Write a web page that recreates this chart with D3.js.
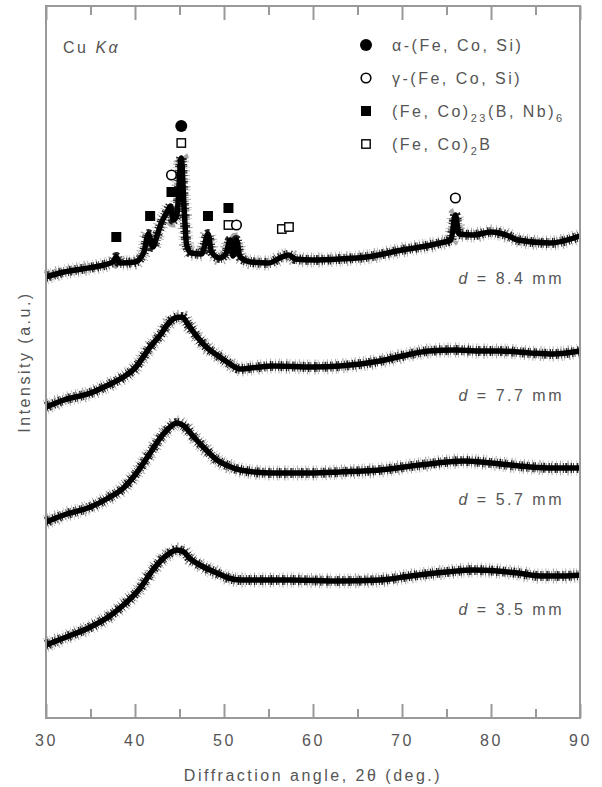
<!DOCTYPE html>
<html>
<head>
<meta charset="utf-8">
<script src="https://cdn.jsdelivr.net/npm/d3@7"></script>
<style>
  body { margin: 0; background: #fff; }
  text { font-family: "Liberation Sans", Arial, sans-serif; fill: #555; letter-spacing: 2.5px; }
</style>
</head>
<body>
<script>
// XRD patterns, intensity in arbitrary units (curves offset vertically)
const angles84 = [30, 32, 34, 36, 37.5, 37.9, 38.3, 40, 41, 41.5, 42, 42.5, 43, 43.6, 44, 44.3, 44.7, 45.2, 45.5, 45.8, 46.3, 47.5, 48.2, 48.6, 49.5, 50.2, 50.7, 51.0, 51.4, 51.8, 53, 55, 56.5, 57.3, 58, 60, 63, 66, 70, 74.3, 75.5, 76, 76.4, 78, 80, 82, 83, 86.6, 90];
const values84 = [441, 446, 449, 452, 456, 461, 455, 456, 466, 484, 471, 483, 496, 506, 512, 498, 503, 560, 513, 473, 465, 464, 484, 466, 460, 464, 478, 462, 478, 461, 456, 455, 461, 463, 459, 458, 459, 461, 468, 475, 478, 503, 484, 483, 486, 482, 478, 475, 482];

const angles77 = [30, 32, 35, 37, 38.7, 40, 41.7, 43, 43.6, 44.5, 45.3, 46, 47, 48, 49.2, 50.5, 51.8, 53, 55.5, 60, 63, 67.5, 70, 73, 76, 78.8, 81, 84.4, 87, 90];
const values77 = [311, 318, 325, 333, 341, 350, 371, 385, 393, 400, 401, 393, 381, 371, 363, 355, 349, 350, 352, 351, 352, 357, 362, 367, 368, 367, 367, 365, 364, 367];

const angles57 = [30, 32, 35, 37, 38.7, 40, 41.7, 43, 43.6, 44.7, 45.5, 46.6, 48, 49.2, 50.5, 51.8, 55.5, 60, 63, 67.5, 72, 76.9, 80, 84.4, 87, 90];
const values57 = [196, 203, 211, 220, 230, 243, 265, 282, 288, 295, 292, 281, 268, 258, 252, 248, 245, 245, 246, 248, 253, 257, 255, 251, 250, 250];

const angles35 = [30, 32, 35, 37, 38.7, 40.5, 42, 43.6, 44.7, 45.5, 46.1, 47.5, 49.2, 50.5, 51.8, 57.4, 63, 67.5, 71, 75, 78, 80.7, 83, 85.5, 88, 90];
const values35 = [73, 80, 91, 101, 113, 129, 148, 163, 168, 166, 160, 152, 145, 140, 138, 138, 137, 138, 142, 146, 148, 147, 145, 142, 142, 143];

const sampleLabels = ["8.4", "7.7", "5.7", "3.5"];
const labelLevels = [434, 317, 213, 103];

// phase markers on the d = 8.4 mm pattern
const markerPhase = ["alpha", "fcb", "gamma", "fbn", "fbn", "fbn", "fbn", "fbn", "fcb", "gamma", "fcb", "fcb", "gamma"];
const markerAngle = [45.2, 45.2, 44.1, 44.1, 41.7, 37.9, 48.2, 50.5, 50.5, 51.4, 56.5, 57.3, 76.0];
const markerLevel = [592, 575, 543, 526, 502, 481, 502, 510, 493, 493, 489, 491, 520];

const legendPhases = ["alpha", "gamma", "fbn", "fcb"];

const xTicks = [30, 40, 50, 60, 70, 80, 90];
const xMinorTicks = [35, 45, 55, 65, 75, 85];

const W = 602, H = 787;
const margin = { top: 6, right: 22, bottom: 69, left: 46 };
const plotW = W - margin.left - margin.right;
const plotH = H - margin.top - margin.bottom;

const svg = d3.select('body').append('svg')
  .attr('width', W)
  .attr('height', H);

const x = d3.scaleLinear().domain([30, 90]).range([margin.left, margin.left + plotW]);
const y = d3.scaleLinear().domain([0, plotH]).range([margin.top + plotH, margin.top]);

const axisColor = '#999';

// curves
const series = [
  { a: angles84, v: values84 },
  { a: angles77, v: values77 },
  { a: angles57, v: values57 },
  { a: angles35, v: values35 }
];

const line = d3.line()
  .x(d => x(d[0]))
  .y(d => y(d[1]))
  .curve(d3.curveMonotoneX);

// dash patterns only give the band its ragged, noisy edge
const combs = [
  { w: 15, o: 0.35, dash: '0.6 3.1 0.9 1.7 0.5 4.3 1.2 2.2 0.7 5.1 0.5 2.9 1.0 3.7' },
  { w: 10, o: 0.85, dash: '0.9 1.4 1.7 0.8 0.6 2.3 1.3 1.1 0.8 2.9 1.5 0.7 1.0 1.9 0.6 2.6' }
];

const curves = svg.append('g');
series.forEach(s => {
  const pts = s.a.map((a, i) => [a, s.v[i]]);
  combs.forEach(c => {
    curves.append('path')
      .datum(pts)
      .attr('d', line)
      .style('fill', 'none')
      .style('stroke', '#000')
      .style('stroke-width', c.w)
      .style('stroke-dasharray', c.dash)
      .style('opacity', c.o);
  });
  curves.append('path')
    .datum(pts)
    .attr('d', line)
    .style('fill', 'none')
    .style('stroke', '#000')
    .style('stroke-width', 5.5)
    .style('stroke-linejoin', 'round');
});

// frame
svg.append('rect')
  .attr('x', margin.left)
  .attr('y', margin.top)
  .attr('width', plotW)
  .attr('height', plotH)
  .style('fill', 'none')
  .style('stroke', axisColor)
  .style('stroke-width', 2);

// axes (ticks inward)
const bottom = svg.append('g')
  .attr('transform', `translate(0, ${margin.top + plotH})`)
  .call(d3.axisBottom(x).tickValues(xTicks).tickSize(-14).tickPadding(17).tickFormat(d3.format('d')));
svg.append('g')
  .attr('transform', `translate(0, ${margin.top + plotH})`)
  .call(d3.axisBottom(x).tickValues(xMinorTicks).tickSize(-9).tickFormat(''));
svg.append('g')
  .attr('transform', `translate(0, ${margin.top})`)
  .call(d3.axisTop(x).tickValues(xTicks).tickSize(-14).tickFormat(''));
svg.append('g')
  .attr('transform', `translate(0, ${margin.top})`)
  .call(d3.axisTop(x).tickValues(xMinorTicks).tickSize(-9).tickFormat(''));

svg.selectAll('.domain').remove();
svg.selectAll('.tick line').style('stroke', axisColor).style('stroke-width', 2);
bottom.selectAll('text').style('font-size', '16px').style('fill', '#555')
  .style('font-family', '"Liberation Sans", Arial, sans-serif');

// axis titles
svg.append('text')
  .attr('x', margin.left + plotW / 2)
  .attr('y', 781)
  .attr('text-anchor', 'middle')
  .style('font-size', '16px')
  .text('Diffraction angle, 2θ (deg.)');

svg.append('text')
  .attr('transform', `translate(30, ${margin.top + plotH / 2}) rotate(-90)`)
  .attr('text-anchor', 'middle')
  .style('font-size', '16px')
  .text('Intensity (a.u.)');

// Cu Ka
const cu = svg.append('text')
  .attr('x', 63)
  .attr('y', 53)
  .style('font-size', '16px');
cu.append('tspan').text('Cu ');
cu.append('tspan').style('font-style', 'italic').text('Kα');

// sample labels
sampleLabels.forEach((s, i) => {
  const t = svg.append('text')
    .attr('x', x(88.2))
    .attr('y', y(labelLevels[i]))
    .attr('text-anchor', 'end')
    .style('font-size', '16px');
  t.append('tspan').style('font-style', 'italic').text('d');
  t.append('tspan').text(` = ${s} mm`);
});

// markers
function drawMarker(g, phase, cx, cy) {
  if (phase === 'alpha') {
    g.append('circle').attr('cx', cx).attr('cy', cy).attr('r', 6).style('fill', '#000');
  } else if (phase === 'gamma') {
    g.append('circle').attr('cx', cx).attr('cy', cy).attr('r', 4.8)
      .style('fill', '#fff').style('stroke', '#000').style('stroke-width', 1.6);
  } else if (phase === 'fbn') {
    g.append('rect').attr('x', cx - 5).attr('y', cy - 5).attr('width', 10).attr('height', 10)
      .style('fill', '#000');
  } else {
    g.append('rect').attr('x', cx - 4.2).attr('y', cy - 4.2).attr('width', 8.4).attr('height', 8.4)
      .style('fill', '#fff').style('stroke', '#000').style('stroke-width', 1.4);
  }
}

const markers = svg.append('g');
markerPhase.forEach((p, i) => drawMarker(markers, p, x(markerAngle[i]), y(markerLevel[i])));

// legend
const legend = svg.append('g');
const legendY = [45, 78, 111, 144];
legendPhases.forEach((p, i) => {
  drawMarker(legend, p, 366, legendY[i]);
  const t = legend.append('text')
    .attr('x', 392)
    .attr('y', legendY[i] + 6)
    .style('font-size', '16px');
  if (p === 'alpha') t.text('α-(Fe, Co, Si)');
  else if (p === 'gamma') t.text('γ-(Fe, Co, Si)');
  else if (p === 'fbn') {
    t.append('tspan').text('(Fe, Co)');
    t.append('tspan').attr('dy', 5).style('font-size', '11px').text('23');
    t.append('tspan').attr('dy', -5).text('(B, Nb)');
    t.append('tspan').attr('dy', 5).style('font-size', '11px').text('6');
  } else {
    t.append('tspan').text('(Fe, Co)');
    t.append('tspan').attr('dy', 5).style('font-size', '11px').text('2');
    t.append('tspan').attr('dy', -5).text('B');
  }
});
</script>
</body>
</html>
